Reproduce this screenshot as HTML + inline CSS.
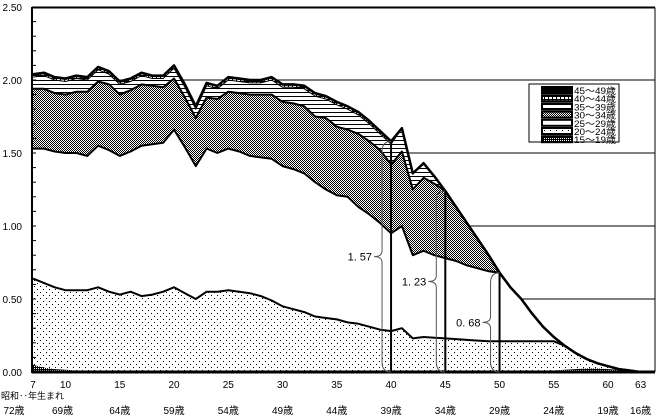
<!DOCTYPE html>
<html><head><meta charset="utf-8"><style>
html,body{margin:0;padding:0;background:#fff;}
svg{display:block;font-family:"Liberation Sans","Noto Sans CJK JP",sans-serif;}
</style></head><body>
<svg id="chart" width="660" height="419" viewBox="0 0 660 419" xmlns="http://www.w3.org/2000/svg">
<defs>
<pattern id="pHatch" width="4" height="4" patternUnits="userSpaceOnUse"><rect width="4" height="4" fill="#fff"/><rect y="0" width="4" height="1" fill="#000"/></pattern>
<pattern id="pGrid" width="4" height="3" patternUnits="userSpaceOnUse"><rect width="4" height="3" fill="#fff"/><rect width="4" height="1" fill="#000"/><rect width="1" height="3" fill="#000"/></pattern>
<pattern id="pCross" width="2" height="2" patternUnits="userSpaceOnUse"><rect width="2" height="2" fill="#fff"/><rect width="1" height="1" fill="#000"/><rect x="1" y="1" width="1" height="1" fill="#000"/></pattern>
<pattern id="pDots" width="6" height="6" patternUnits="userSpaceOnUse"><rect width="6" height="6" fill="#fff"/><rect x="1" y="1" width="1" height="1" fill="#000"/><rect x="4" y="4" width="1" height="1" fill="#000"/></pattern>
<pattern id="pDense" width="2" height="2" patternUnits="userSpaceOnUse"><rect width="2" height="2" fill="#000"/><rect width="1" height="1" fill="#fff"/></pattern>
</defs>
<g id="grid"></g>
<g id="areas"></g>
<g id="lines"></g>
<g id="axes"></g>
<g id="annot"></g>
<g id="legend"></g>
</svg>
<script>
const years = [7,8,9,10,11,12,13,14,15,16,17,18,19,20,21,22,23,24,25,26,27,28,29,30,31,32,33,34,35,36,37,38,39,40,41,42,43,44,45,46,47,48,49,50,51,52,53,54,55,56,57,58,59,60,61,62,63];
const total = [2.04,2.05,2.02,2.01,2.03,2.02,2.09,2.06,1.99,2.01,2.05,2.03,2.03,2.10,1.97,1.82,1.98,1.96,2.02,2.01,2.00,2.00,2.02,1.97,1.97,1.96,1.91,1.89,1.85,1.82,1.78,1.72,1.65,1.58,1.67,1.36,1.43,1.34,1.24,1.13,1.02,0.91,0.80,0.68,0.58,0.50,0.40,0.31,0.24,0.18,0.13,0.09,0.06,0.04,0.02,0.01,0];
const cum40 = [2.03,2.04,2.01,2.00,2.02,2.01,2.08,2.05,1.98,2.00,2.04,2.02,2.02,2.09,1.96,1.81,1.97,1.95,2.01,2.00,1.99,1.99,2.01,1.96,1.96,1.95,1.90,1.88,1.84,1.82,1.78,1.72,1.65,1.58,1.67,1.36,1.43,1.34,1.24,1.13,1.02,0.91,0.80,0.68,0.58,0.50,0.40,0.31,0.24,0.18,0.13,0.09,0.06,0.04,0.02,0.01,0];
const cum35 = [2.02,2.03,2.00,1.99,2.01,2.00,2.07,2.04,1.97,1.99,2.03,2.01,2.01,2.08,1.95,1.80,1.96,1.94,2.00,1.99,1.98,1.98,2.00,1.95,1.95,1.94,1.89,1.87,1.83,1.80,1.76,1.70,1.63,1.56,1.67,1.36,1.43,1.34,1.24,1.13,1.02,0.91,0.80,0.68,0.58,0.50,0.40,0.31,0.24,0.18,0.13,0.09,0.06,0.04,0.02,0.01,0];
const cum30 = [1.94,1.94,1.91,1.90,1.92,1.92,1.99,1.97,1.90,1.93,1.97,1.96,1.95,2.01,1.88,1.74,1.88,1.87,1.92,1.91,1.90,1.90,1.90,1.85,1.84,1.82,1.75,1.74,1.68,1.66,1.63,1.58,1.52,1.42,1.51,1.25,1.33,1.29,1.24,1.13,1.02,0.91,0.80,0.68,0.58,0.50,0.40,0.31,0.24,0.18,0.13,0.09,0.06,0.04,0.02,0.01,0];
const cum25 = [1.53,1.53,1.51,1.50,1.50,1.48,1.55,1.52,1.48,1.51,1.55,1.56,1.57,1.66,1.54,1.41,1.53,1.50,1.53,1.51,1.48,1.47,1.46,1.41,1.39,1.36,1.30,1.25,1.21,1.20,1.13,1.08,1.02,0.95,1.00,0.80,0.83,0.80,0.78,0.76,0.73,0.71,0.69,0.68,0.58,0.50,0.40,0.31,0.24,0.18,0.13,0.09,0.06,0.04,0.02,0.01,0];
const cum20 = [0.64,0.61,0.58,0.56,0.56,0.56,0.58,0.55,0.53,0.55,0.52,0.53,0.55,0.58,0.54,0.50,0.55,0.55,0.56,0.55,0.54,0.52,0.49,0.45,0.43,0.41,0.38,0.37,0.36,0.34,0.33,0.31,0.29,0.28,0.30,0.23,0.24,0.235,0.23,0.225,0.22,0.215,0.21,0.21,0.21,0.21,0.21,0.21,0.21,0.18,0.13,0.09,0.06,0.04,0.02,0.01,0];
const cum15 = [0.05,0.03,0.02,0.015,0.01,0.01,0.01,0.01,0.01,0.01,0.01,0.01,0.01,0.01,0.01,0.01,0.01,0.01,0.01,0.01,0.01,0.01,0.01,0.01,0.01,0.01,0.01,0.01,0.01,0.01,0.01,0.01,0.01,0.01,0.01,0.01,0.01,0.01,0.01,0.01,0.01,0.01,0.01,0.01,0.01,0.01,0.01,0.01,0.01,0.015,0.02,0.025,0.025,0.02,0.015,0.01,0];
const yTicks = [0,0.5,1.0,1.5,2.0,2.5];
const yTickLabels = ["0.00","0.50","1.00","1.50","2.00","2.50"];
const xTicks = [7,10,15,20,25,30,35,40,45,50,55,60,63];
const ageLabels = ["72歳","69歳","64歳","59歳","54歳","49歳","44歳","39歳","34歳","29歳","24歳","19歳","16歳"];
const legendLabels = ["45〜49歳","40〜44歳","35〜39歳","30〜34歳","25〜29歳","20〜24歳","15〜19歳"];
const markYears = [40,45,50];
const markValues = ["1. 57","1. 23","0. 68"];

const NS="http://www.w3.org/2000/svg";
const X0=32, X1=655, Y0=372, Y1=7;
function xs(yr){return 33+(yr-7)*10.85;}
function ys(v){return Y0-(v/2.5)*(Y0-Y1);}
function mk(tag,attrs,parent){const e=document.createElementNS(NS,tag);for(const k in attrs)e.setAttribute(k,attrs[k]);parent.appendChild(e);return e;}
const grid=document.getElementById('grid'),areas=document.getElementById('areas'),lines=document.getElementById('lines'),axes=document.getElementById('axes'),annot=document.getElementById('annot'),legend=document.getElementById('legend');

yTicks.forEach((t,i)=>{ if(t===0) return;
  const l=mk('line',{x1:X0,x2:X1,y1:ys(t),y2:ys(t),stroke:'#000','stroke-width':1},grid);
  
  
});

const layers=[
 {arr:total,fill:'#000',name:'area-45-49'},
 {arr:cum40,fill:'url(#pGrid)',name:'area-40-44'},
 {arr:cum35,fill:'url(#pHatch)',name:'area-35-39'},
 {arr:cum30,fill:'url(#pCross)',name:'area-30-34'},
 {arr:cum25,fill:'#fff',name:'area-25-29'},
 {arr:cum20,fill:'url(#pDots)',name:'area-20-24'},
 {arr:cum15,fill:'url(#pDense)',name:'area-15-19'}
];
function pts(arr){return years.map((yr,i)=>xs(yr).toFixed(1)+','+ys(arr[i]).toFixed(1)).join(' ');}
layers.forEach(L=>{
  const p=pts(L.arr)+' '+xs(63)+','+Y0+' '+xs(7)+','+Y0;
  const e=mk('polygon',{points:p,fill:L.fill,stroke:'none'},areas);
  
  
});
[[total,2.5,'line-total'],[cum30,2,'line-cum-30'],[cum25,2,'line-cum-25'],[cum20,2,'line-cum-20'],[cum35,1,'line-cum-35']].forEach(d=>{
  const e=mk('polyline',{points:pts(d[0]),fill:'none',stroke:'#000','stroke-width':d[1],'stroke-linejoin':'round'},lines);
  
  
});

const ax=mk('line',{x1:X0,x2:X0,y1:Y1,y2:Y0+1,stroke:'#000','stroke-width':2},axes);


const bx=mk('line',{x1:X0,x2:X1,y1:Y0,y2:Y0,stroke:'#000','stroke-width':3},axes);


const tb=mk('polyline',{points:`${X0},${Y1+1} ${X1},${Y1+1} ${X1},${Y0}`,fill:'none',stroke:'#000','stroke-width':1},axes);


for(let v=0.1;v<2.5;v+=0.1){
  const t=mk('line',{x1:X0,x2:X0+4,y1:ys(v),y2:ys(v),stroke:'#000','stroke-width':1},axes);
  
  
}
yTicks.forEach((t,i)=>{
  const e=mk('text',{x:22,y:ys(t)+4,'font-size':10,'text-anchor':'end',fill:'#000'},axes);
  e.textContent=yTickLabels[i];
  
  
});
xTicks.forEach((t,i)=>{
  const e=mk('text',{x:xs(t),y:388,'font-size':10,'text-anchor':'middle',fill:'#000'},axes);
  e.textContent=String(t);
  
  
  const a=mk('text',{x:(i===0?14:xs(t)+(i===1?-3:0)),y:414,'font-size':10,'text-anchor':'middle',fill:'#000'},axes);
  a.textContent=ageLabels[i];
  
  
});
const cap=mk('text',{x:1,y:399,'font-size':9,fill:'#000'},axes);
cap.textContent='昭和‥年生まれ';



markYears.forEach((yr,i)=>{
  const idx=years.indexOf(yr), top=ys(total[idx]), x=xs(yr), bx2=x-9, mid=(top+Y0)/2;
  const v=mk('line',{x1:x,x2:x,y1:top,y2:Y0,stroke:'#000','stroke-width':2},annot);
  
  
  const d=`M${x} ${top} Q${bx2} ${top} ${bx2} ${top+10} L${bx2} ${mid-6} Q${bx2} ${mid} ${bx2-8} ${mid} Q${bx2} ${mid} ${bx2} ${mid+6} L${bx2} ${Y0-10} Q${bx2} ${Y0} ${x} ${Y0}`;
  const b=mk('path',{d:d,fill:'none',stroke:'#555','stroke-width':1},annot);
  
  
  const t=mk('text',{x:bx2-10,y:mid+4,'font-size':11,'text-anchor':'end',fill:'#000'},annot);
  t.textContent=markValues[i];
  
  
});

const lb=mk('rect',{x:529,y:84,width:90,height:58,fill:'#fff',stroke:'#000','stroke-width':1},legend);


const lf=['#000','url(#pGrid)','url(#pHatch)','url(#pCross)','#fff','url(#pDots)','url(#pDense)'];
legendLabels.forEach((s,i)=>{
  const y=87+i*8.2;
  const r=mk('rect',{x:542,y:y,width:30,height:6,fill:lf[i],stroke:'#000','stroke-width':2},legend);
  
  
  const t=mk('text',{x:574,y:y+7,'font-size':9,fill:'#000',textLength:42,lengthAdjust:'spacingAndGlyphs'},legend);
  t.textContent=s;
  
  
});
</script>
</body></html>
